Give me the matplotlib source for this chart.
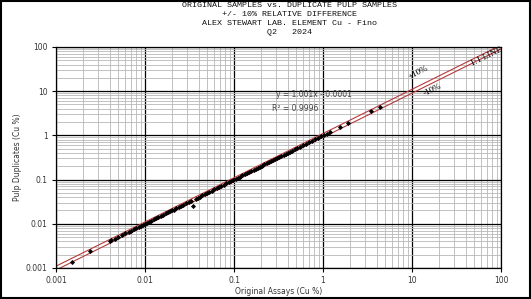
import numpy as np
import matplotlib.pyplot as plt
from matplotlib.ticker import LogLocator, FixedLocator, FixedFormatter

# -------------------------
# DATA
# -------------------------
original = [0.0015, 0.0024, 0.0040, 0.0042, 0.0046, 0.0050, 0.0055, 0.0060, 0.0066, 0.0070,
            0.0075, 0.0080, 0.0085, 0.0090, 0.0095, 0.0100, 0.0105, 0.0110, 0.0118, 0.0125,
            0.0132, 0.0140, 0.0150, 0.0160, 0.0170, 0.0180, 0.0190, 0.0200, 0.0210, 0.0225,
            0.0240, 0.0255, 0.0270, 0.0290, 0.0310, 0.0330, 0.0350, 0.0370, 0.0390, 0.0410,
            0.0440, 0.0470, 0.0500, 0.0530, 0.0560, 0.0600, 0.0640, 0.0680, 0.0720, 0.0770,
            0.0820, 0.0870, 0.0920, 0.0980, 0.1040, 0.1100, 0.1170, 0.1240, 0.1320, 0.1400,
            0.1480, 0.1570, 0.1660, 0.1760, 0.1860, 0.1970, 0.2080, 0.2200, 0.2330, 0.2460,
            0.2600, 0.2750, 0.2900, 0.3060, 0.3230, 0.3400, 0.3600, 0.3800, 0.4000, 0.4250,
            0.4500, 0.4800, 0.5100, 0.5500, 0.6000, 0.6500, 0.7000, 0.7600, 0.8200, 0.8800,
            0.9500, 1.0200, 1.1000, 1.2000, 1.5700, 1.9000, 3.5000, 4.4000]
duplicate = [0.0014, 0.0024, 0.0040, 0.0043, 0.0046, 0.0050, 0.0055, 0.0061, 0.0066, 0.0070,
             0.0075, 0.0080, 0.0086, 0.0090, 0.0096, 0.0100, 0.0104, 0.0110, 0.0118, 0.0126,
             0.0132, 0.0140, 0.0150, 0.0160, 0.0171, 0.0180, 0.0190, 0.0200, 0.0210, 0.0225,
             0.0240, 0.0256, 0.0270, 0.0290, 0.0310, 0.0330, 0.0250, 0.0370, 0.0390, 0.0410,
             0.0440, 0.0470, 0.0500, 0.0530, 0.0560, 0.0600, 0.0640, 0.0680, 0.0720, 0.0770,
             0.0820, 0.0870, 0.0920, 0.0980, 0.1040, 0.1100, 0.1170, 0.1240, 0.1320, 0.1400,
             0.1480, 0.1570, 0.1660, 0.1760, 0.1860, 0.1970, 0.2080, 0.2200, 0.2330, 0.2460,
             0.2600, 0.2750, 0.2900, 0.3060, 0.3230, 0.3400, 0.3600, 0.3800, 0.4000, 0.4250,
             0.4500, 0.4800, 0.5100, 0.5500, 0.6000, 0.6500, 0.7000, 0.7600, 0.8200, 0.8800,
             0.9500, 1.0200, 1.1000, 1.2000, 1.5700, 1.9000, 3.5000, 4.4000]

tick_values = [0.001, 0.01, 0.1, 1, 10, 100]
tick_labels = ["0.001", "0.01", "0.1", "1", "10", "100"]

title_lines = ["ORIGINAL SAMPLES vs. DUPLICATE PULP SAMPLES",
               "+/- 10% RELATIVE DIFFERENCE",
               "ALEX STEWART LAB. ELEMENT Cu - Fino",
               "Q2   2024"]

# -------------------------
# FIGURE
# -------------------------
fig = plt.figure(figsize=(5.31, 2.99), dpi=100)
ax = fig.add_axes([0.1055, 0.1037, 0.838, 0.7393])

ax.set_xscale("log")
ax.set_yscale("log")
ax.set_xlim(0.001, 100)
ax.set_ylim(0.001, 100)

# grid
for axis in (ax.xaxis, ax.yaxis):
    axis.set_minor_locator(LogLocator(base=10, subs=np.arange(2, 10)))
ax.grid(True, which="minor", color="#b8b8b8", linewidth=0.6)
ax.grid(True, which="major", color="black", linewidth=0.9)
ax.set_axisbelow(True)

# +/- 10% lines
line = np.array([0.001, 100])
ax.plot(line, line * 1.1, color="#b83a3a", linewidth=0.8)
ax.plot(line, line * 0.9, color="#b83a3a", linewidth=0.8)

ax.plot(original, duplicate, linestyle="none", marker="D", markersize=2.6,
        color="black", markeredgewidth=0)

ax.xaxis.set_major_locator(FixedLocator(tick_values))
ax.xaxis.set_major_formatter(FixedFormatter(tick_labels))
ax.yaxis.set_major_locator(FixedLocator(tick_values))
ax.yaxis.set_major_formatter(FixedFormatter(tick_labels))
ax.tick_params(which="both", labelsize=5.5, length=0, pad=3, colors="#333333")
ax.tick_params(which="major", length=3, color="black")

for s in ax.spines.values():
    s.set_color("black")
    s.set_linewidth(0.9)

ax.set_xlabel("Original Assays (Cu %)", fontsize=5.5, labelpad=1, color="#333333")
ax.set_ylabel("Pulp Duplicates (Cu %)", fontsize=5.5, labelpad=3, color="#333333")

# annotations
ax.text(0.30, 8.2, "y = 1.001x - 0.0001", fontsize=5.5, color="#444444",
        ha="left", va="center")
ax.text(0.27, 4.0, "R² = 0.9996", fontsize=5.5, color="#444444", ha="left", va="center")
ax.text(11.7, 25.8, "+10%", fontsize=6.5, rotation=26, family="Liberation Serif",
        ha="center", va="center")
ax.text(16.8, 10.7, "-10%", fontsize=6.5, rotation=26, family="Liberation Serif",
        ha="center", va="center")
ax.text(69.0, 59.0, "1:1 LINE", fontsize=6.5, rotation=26, family="Liberation Serif",
        ha="center", va="center")

# title, one line at a time
title_y = [0.980, 0.950, 0.920, 0.890]
for txt, yy in zip(title_lines, title_y):
    fig.text(0.545, yy, txt, ha="center", va="center", fontsize=6,
             family="Liberation Mono", color="#111111")

# frame around figure
fig.patches.append(plt.Rectangle((0.002, 0.004), 0.996, 0.992, transform=fig.transFigure,
                                 fill=False, edgecolor="black", linewidth=1.5))

fig.savefig("out.png", dpi=100)
